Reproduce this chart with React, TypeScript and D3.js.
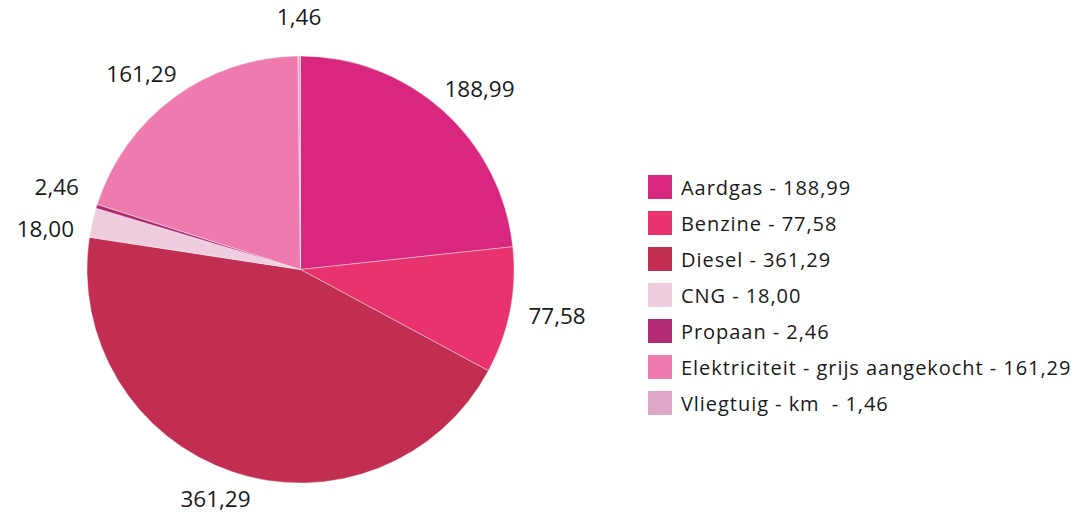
import React, { useRef, useEffect } from 'react';
import * as d3 from 'd3';

const categories = ['Aardgas', 'Benzine', 'Diesel', 'CNG', 'Propaan', 'Elektriciteit - grijs aangekocht', 'Vliegtuig - km '];
const values = [188.99, 77.58, 361.29, 18.0, 2.46, 161.29, 1.46];
const colors = ['#d9267f', '#e8336f', '#c22e52', '#efcdde', '#b22a74', '#ef7bae', '#e0a6c6'];

const fmt = (v: number) => v.toFixed(2).replace('.', ',');

const App = () => {
  const ref = useRef<SVGSVGElement>(null);

  useEffect(() => {
    const svg = d3.select(ref.current);
    svg.selectAll('*').remove();

    const cx = 300.5;
    const cy = 269.5;
    const radius = 213.5;
    const font = '"Open Sans", "Noto Sans", sans-serif';

    const data = categories.map((c, i) => ({ name: c, value: values[i], color: colors[i] }));
    const pie = d3.pie<any>().sort(null).value((d) => d.value);
    const arcs = pie(data);
    const arc = d3.arc<any>().innerRadius(0).outerRadius(radius);

    const g = svg.append('g').attr('transform', `translate(${cx},${cy})`);

    g.selectAll('path')
      .data(arcs)
      .enter()
      .append('path')
      .attr('d', arc)
      .attr('fill', (d) => d.data.color)
      .attr('stroke', '#ffffff')
      .attr('stroke-width', 0.4);

    // labels outside the pie, box pushed outward from a point on a bigger circle
    const labelR = 230;
    const fs = 22.5;
    const labels = arcs.map((d) => {
      const a = (d.startAngle + d.endAngle) / 2;
      const text = fmt(d.data.value);
      const w = text.length * fs * 0.56;
      const h = fs;
      const px = Math.sin(a) * labelR;
      const py = -Math.cos(a) * labelR;
      return { text, x: px + Math.sin(a) * w / 2, y: py - Math.cos(a) * h / 2 - 12 * Math.max(0, Math.cos(a)) ** 8, side: Math.sin(a) >= 0 ? 1 : -1 };
    });

    // simple collision relax on each side
    for (let iter = 0; iter < 50; iter++) {
      for (let i = 0; i < labels.length; i++) {
        for (let j = i + 1; j < labels.length; j++) {
          const a = labels[i];
          const b = labels[j];
          if (a.side !== b.side) continue;
          if (Math.abs(a.x - b.x) > 60) continue;
          const dy = b.y - a.y;
          const min = 42;
          if (Math.abs(dy) < min) {
            const push = (min - Math.abs(dy)) / 2;
            const s = dy >= 0 ? 1 : -1;
            a.y -= push * s;
            b.y += push * s;
          }
        }
      }
    }

    g.selectAll('text.lbl')
      .data(labels)
      .enter()
      .append('text')
      .attr('class', 'lbl')
      .attr('x', (d) => d.x)
      .attr('y', (d) => d.y)
      .attr('text-anchor', 'middle')
      .attr('dominant-baseline', 'central')
      .attr('font-family', font)
      .attr('font-size', fs)
      .attr('fill', '#1a1a1a')
      .text((d) => d.text);

    // legend
    const legend = svg.append('g').attr('transform', 'translate(648,175)');
    const y = d3.scaleBand<number>().domain(d3.range(data.length)).range([0, 36 * data.length]);

    const rows = legend
      .selectAll('g')
      .data(data)
      .enter()
      .append('g')
      .attr('transform', (_d, i) => `translate(0,${y(i)})`);

    rows.append('rect').attr('width', 24).attr('height', 24).attr('fill', (d) => d.color);

    rows
      .append('text')
      .attr('x', 33)
      .attr('y', 12)
      .attr('dominant-baseline', 'central')
      .attr('font-family', font)
      .attr('font-size', 20)
      .attr('letter-spacing', 0.95)
      .style('white-space', 'pre')
      .attr('fill', '#1a1a1a')
      .text((d) => `${d.name} - ${fmt(d.value)}`);
  }, []);

  return <svg ref={ref} width={1078} height={513} style={{ position: 'absolute', left: 0, top: 0 }}></svg>;
};

export default App;
